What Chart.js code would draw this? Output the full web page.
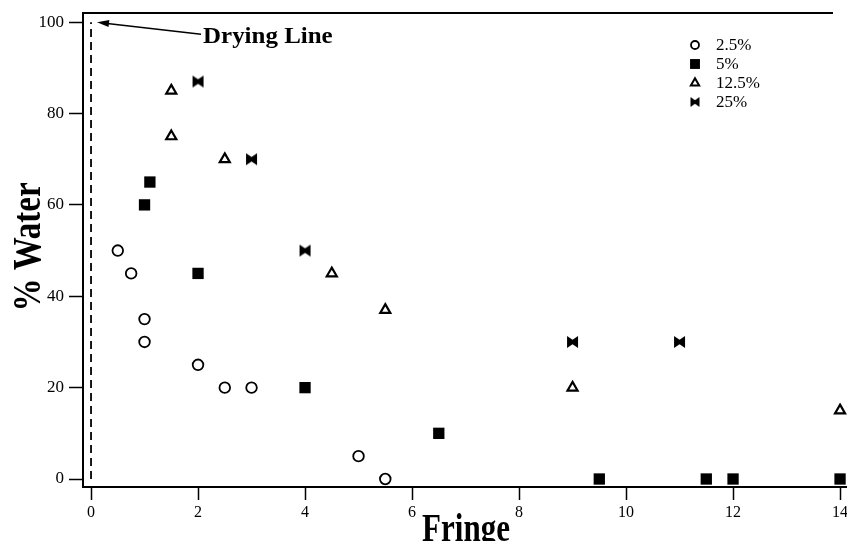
<!DOCTYPE html>
<html>
<head>
<meta charset="utf-8">
<script src="https://cdn.jsdelivr.net/npm/chart.js@4.4.0/dist/chart.umd.min.js"></script>
<style>
  html, body { margin: 0; padding: 0; background: #fff; overflow: hidden; }
  canvas { display: block; }
</style>
</head>
<body>
<canvas id="waterChart" width="847" height="541"></canvas>
<script>
// tick labels
const xTicks = [0, 2, 4, 6, 8, 10, 12, 14];
const yTicks = [0, 20, 40, 60, 80, 100];

// series
const seriesNames = ['2.5%', '5%', '12.5%', '25%'];
const fringe2_5 = [0.5, 0.75, 1, 1, 2, 2.5, 3, 5, 5.5];
const water2_5 = [50, 45, 35, 30, 25, 20, 20, 5, 0];
const fringe5 = [1, 1.1, 2, 4, 6.5, 9.5, 11.5, 12, 14];
const water5 = [60, 65, 45, 20, 10, 0, 0, 0, 0];
const fringe12_5 = [1.5, 1.5, 2.5, 4.5, 5.5, 9, 14];
const water12_5 = [85, 75, 70, 45, 37, 20, 15];
const fringe25 = [2, 3, 4, 9, 11];
const water25 = [87, 70, 50, 30, 30];

// drying line (dashed vertical at fringe 0)
const dryingX = [0, 0];
const dryingY = [0, 100];

const SERIF = '"Liberation Serif", "Times New Roman", serif';

function toPoints(xs, ys) {
    return xs.map((x, i) => ({ x: x, y: ys[i] }));
}

// bowtie marker, filled
function makeBowtie(w, h) {
    const c = document.createElement('canvas');
    c.width = w + 2;
    c.height = h + 2;
    const g = c.getContext('2d');
    const cx = c.width / 2, cy = c.height / 2;
    g.fillStyle = '#000';
    g.beginPath();
    g.moveTo(cx - w / 2, cy - h / 2);
    g.lineTo(cx, cy - h * 0.18);
    g.lineTo(cx + w / 2, cy - h / 2);
    g.lineTo(cx + w / 2, cy + h / 2);
    g.lineTo(cx, cy + h * 0.18);
    g.lineTo(cx - w / 2, cy + h / 2);
    g.closePath();
    g.fill();
    return c;
}

const bowtieBig = makeBowtie(11, 12);
const bowtieSmall = makeBowtie(9, 10);

const markerStyles = [
    { pointStyle: 'circle', radius: 5.3, borderWidth: 1.8, fill: '#fff' },
    { pointStyle: 'rect', radius: 8, borderWidth: 0, fill: '#000' },
    { pointStyle: 'triangle', radius: 5.8, borderWidth: 2.2, fill: '#fff' },
    { pointStyle: bowtieBig, radius: 6, borderWidth: 0, fill: '#000' }
];
const legendStyles = [
    { pointStyle: 'circle', radius: 4, borderWidth: 1.8, fill: '#fff' },
    { pointStyle: 'rect', radius: 7, borderWidth: 0, fill: '#000' },
    { pointStyle: 'triangle', radius: 4.8, borderWidth: 2, fill: '#fff' },
    { pointStyle: bowtieSmall, radius: 5, borderWidth: 0, fill: '#000' }
];

function scatterSet(i, xs, ys) {
    const m = markerStyles[i];
    return {
        label: seriesNames[i],
        data: toPoints(xs, ys),
        showLine: false,
        pointStyle: m.pointStyle,
        pointRadius: m.radius,
        pointHoverRadius: m.radius,
        pointBorderWidth: m.borderWidth,
        pointBorderColor: '#000',
        pointBackgroundColor: m.fill,
        clip: false
    };
}

const decorations = {
    id: 'decorations',
    afterDraw(chart) {
        const ctx = chart.ctx;
        const area = chart.chartArea;
        const xs = chart.scales.x, ys = chart.scales.y;
        ctx.save();
        ctx.fillStyle = '#000';
        ctx.strokeStyle = '#000';

        // top frame line
        ctx.lineWidth = 2;
        ctx.beginPath();
        ctx.moveTo(area.left - 1, area.top);
        ctx.lineTo(833, area.top);
        ctx.stroke();

        // Drying Line label + arrow
        const tipX = xs.getPixelForValue(0) + 6;
        const tipY = ys.getPixelForValue(100);
        const textX = xs.getPixelForValue(0) + 112;
        ctx.font = 'bold 24px ' + SERIF;
        ctx.textAlign = 'left';
        ctx.textBaseline = 'alphabetic';
        ctx.save();
        ctx.translate(textX, tipY + 21);
        ctx.scale(1.04, 1);
        ctx.fillText('Drying Line', 0, 0);
        ctx.restore();
        ctx.lineWidth = 1.5;
        ctx.beginPath();
        ctx.moveTo(textX - 2, tipY + 12);
        ctx.lineTo(tipX + 8, tipY + 1);
        ctx.stroke();
        const ang = Math.atan2(12, (textX - 2) - tipX);
        ctx.beginPath();
        ctx.moveTo(tipX, tipY);
        ctx.lineTo(tipX + 12 * Math.cos(ang) - 3.5 * Math.sin(ang), tipY + 12 * Math.sin(ang) + 3.5 * Math.cos(ang));
        ctx.lineTo(tipX + 12 * Math.cos(ang) + 3.5 * Math.sin(ang), tipY + 12 * Math.sin(ang) - 3.5 * Math.cos(ang));
        ctx.closePath();
        ctx.fill();

        // legend
        const helpers = Chart.helpers;
        for (let i = 0; i < seriesNames.length; i++) {
            const ly = 45 + 19 * i;
            const st = legendStyles[i];
            if (helpers && helpers.drawPoint) {
                ctx.fillStyle = st.fill;
                ctx.strokeStyle = '#000';
                ctx.lineWidth = st.borderWidth;
                helpers.drawPoint(ctx, { pointStyle: st.pointStyle, radius: st.radius, borderWidth: st.borderWidth, rotation: 0 }, 695, ly);
            }
            ctx.fillStyle = '#000';
            ctx.font = '17px ' + SERIF;
            ctx.textBaseline = 'middle';
            ctx.fillText(seriesNames[i], 716, ly + 1);
        }

        // axis titles
        ctx.font = 'bold 33px ' + SERIF;
        ctx.textAlign = 'center';
        ctx.textBaseline = 'alphabetic';
        ctx.save();
        ctx.translate(40, 247);
        ctx.scale(1.2, 1);
        ctx.rotate(-Math.PI / 2);
        ctx.fillText('% Water', 0, 0);
        ctx.restore();

        ctx.font = 'bold 31px ' + SERIF;
        ctx.save();
        ctx.translate(466, 541);
        ctx.scale(1, 1.3);
        ctx.fillText('Fringe', 0, 0);
        ctx.restore();

        ctx.restore();
    }
};

new Chart(document.getElementById('waterChart').getContext('2d'), {
    type: 'scatter',
    data: {
        datasets: [
            scatterSet(0, fringe2_5, water2_5),
            scatterSet(1, fringe5, water5),
            scatterSet(2, fringe12_5, water12_5),
            scatterSet(3, fringe25, water25),
            {
                label: 'Drying Line',
                type: 'line',
                data: toPoints(dryingX, dryingY),
                showLine: true,
                borderColor: '#000',
                borderWidth: 1.8,
                borderDash: [8, 5],
                pointRadius: 0,
                fill: false
            }
        ]
    },
    options: {
        responsive: false,
        animation: false,
        events: [],
        layout: { autoPadding: false, padding: { top: 13, right: 0, left: 0, bottom: 0 } },
        scales: {
            x: {
                type: 'linear',
                min: -0.15,
                max: 14.13,
                afterFit(scale) {
                    scale.height = 54;
                    scale.paddingLeft = 0;
                    scale.paddingRight = 0;
                },
                afterBuildTicks(scale) { scale.ticks = xTicks.map(v => ({ value: v })); },
                grid: { drawOnChartArea: false, drawTicks: true, tickLength: 13, tickWidth: 1.5, tickColor: '#000' },
                border: { display: true, color: '#000', width: 2 },
                ticks: { color: '#000', padding: 3, maxRotation: 0, autoSkip: false, font: { family: SERIF, size: 16 } }
            },
            y: {
                type: 'linear',
                min: -1.75,
                max: 102,
                afterFit(scale) {
                    scale.width = 83;
                    scale.paddingTop = 0;
                    scale.paddingBottom = 0;
                },
                afterBuildTicks(scale) { scale.ticks = yTicks.map(v => ({ value: v })); },
                grid: { drawOnChartArea: false, drawTicks: true, tickLength: 14, tickWidth: 1.5, tickColor: '#000' },
                border: { display: true, color: '#000', width: 2 },
                ticks: { color: '#000', padding: 5, autoSkip: false, font: { family: SERIF, size: 17 } }
            }
        },
        plugins: {
            legend: { display: false },
            tooltip: { enabled: false },
            title: { display: false }
        }
    },
    plugins: [decorations]
});
</script>
</body>
</html>
